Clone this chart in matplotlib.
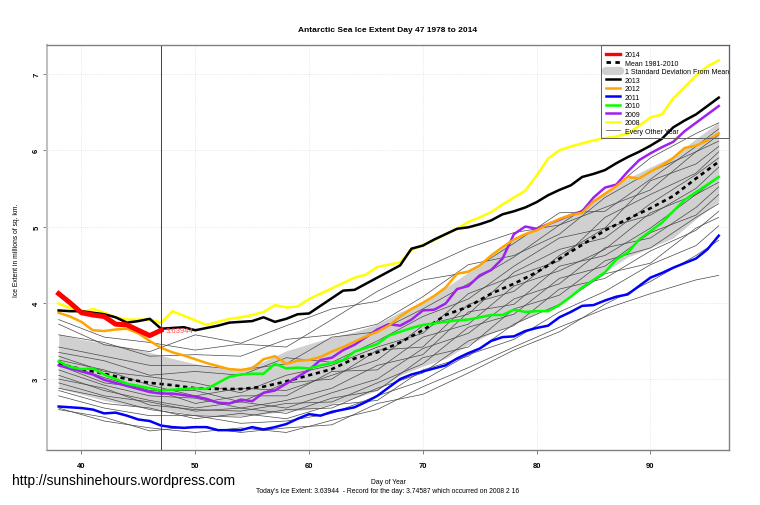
import matplotlib
matplotlib.use("Agg")
import matplotlib.pyplot as plt
from matplotlib.lines import Line2D
from matplotlib.patches import Rectangle

plt.rcParams['font.family'] = ['Liberation Sans', 'DejaVu Sans']

# daily values for the highlighted years
DAYS = list(range(38, 97))
DAYS_2014 = list(range(38, 48))
ICE_2014 = [4.12, 4.0, 3.87, 3.84, 3.82, 3.72, 3.71, 3.64, 3.57, 3.64]
ICE_2013 = [3.9, 3.89, 3.89, 3.87, 3.85, 3.81, 3.74, 3.76, 3.79, 3.66, 3.67, 3.68, 3.64, 3.67, 3.7,
            3.74, 3.75, 3.76, 3.81, 3.75, 3.79, 3.85, 3.86, 3.96, 4.06, 4.16, 4.17, 4.25, 4.33, 4.41,
            4.49, 4.71, 4.75, 4.83, 4.9, 4.97, 4.99, 5.03, 5.08, 5.16, 5.2, 5.25, 5.32, 5.41, 5.48,
            5.54, 5.65, 5.69, 5.74, 5.83, 5.91, 5.98, 6.06, 6.15, 6.3, 6.39, 6.47, 6.58, 6.69]
ICE_2012 = [3.87, 3.82, 3.75, 3.64, 3.63, 3.65, 3.66, 3.6, 3.5, 3.41, 3.35, 3.31, 3.26, 3.21, 3.17,
            3.13, 3.12, 3.14, 3.26, 3.3, 3.2, 3.24, 3.25, 3.29, 3.36, 3.42, 3.49, 3.56, 3.62, 3.7,
            3.82, 3.92, 4.0, 4.09, 4.2, 4.38, 4.41, 4.49, 4.62, 4.73, 4.83, 4.9, 4.95, 5.03, 5.1,
            5.15, 5.18, 5.33, 5.43, 5.53, 5.65, 5.63, 5.72, 5.8, 5.9, 6.03, 6.06, 6.13, 6.22]
ICE_2011 = [2.64, 2.63, 2.62, 2.6, 2.55, 2.56, 2.52, 2.47, 2.45, 2.39, 2.37, 2.36, 2.37, 2.37, 2.33,
            2.33, 2.33, 2.37, 2.34, 2.37, 2.41, 2.48, 2.54, 2.52, 2.57, 2.6, 2.63, 2.7, 2.78, 2.89,
            3.0, 3.06, 3.1, 3.14, 3.18, 3.27, 3.34, 3.4, 3.5, 3.55, 3.56, 3.63, 3.67, 3.7, 3.81,
            3.88, 3.96, 3.97, 4.03, 4.08, 4.11, 4.22, 4.33, 4.39, 4.46, 4.52, 4.58, 4.7, 4.88]
ICE_2010 = [3.23, 3.16, 3.13, 3.14, 3.06, 3.0, 2.94, 2.91, 2.88, 2.85, 2.86, 2.87, 2.88, 2.87, 2.95,
            3.03, 3.06, 3.07, 3.07, 3.2, 3.14, 3.15, 3.14, 3.18, 3.21, 3.25, 3.36, 3.41, 3.46, 3.57,
            3.62, 3.67, 3.71, 3.73, 3.75, 3.77, 3.78, 3.81, 3.84, 3.84, 3.91, 3.88, 3.89, 3.89, 3.97,
            4.08, 4.2, 4.3, 4.4, 4.57, 4.66, 4.83, 4.94, 5.05, 5.2, 5.35, 5.45, 5.55, 5.65]
ICE_2009 = [3.18, 3.14, 3.1, 3.06, 2.99, 2.95, 2.91, 2.87, 2.83, 2.81, 2.81, 2.79, 2.77, 2.74, 2.69,
            2.68, 2.73, 2.71, 2.82, 2.85, 2.94, 3.03, 3.12, 3.25, 3.28, 3.38, 3.45, 3.55, 3.65, 3.72,
            3.7, 3.78, 3.9, 3.91, 3.99, 4.18, 4.22, 4.36, 4.43, 4.58, 4.9, 5.0, 4.97, 5.03, 5.09,
            5.15, 5.2, 5.38, 5.51, 5.55, 5.72, 5.87, 5.96, 6.04, 6.11, 6.25, 6.36, 6.47, 6.58]
ICE_2008 = [3.99, 3.93, 3.87, 3.92, 3.87, 3.81, 3.78, 3.78, 3.78, 3.74, 3.89, 3.83, 3.77, 3.71, 3.75,
            3.79, 3.81, 3.84, 3.88, 3.97, 3.94, 3.95, 4.05, 4.12, 4.19, 4.26, 4.33, 4.37, 4.47, 4.5,
            4.53, 4.69, 4.76, 4.82, 4.9, 4.97, 5.06, 5.12, 5.19, 5.29, 5.38, 5.47, 5.67, 5.89, 6.0,
            6.05, 6.09, 6.13, 6.16, 6.18, 6.22, 6.32, 6.43, 6.47, 6.68, 6.83, 6.98, 7.1, 7.18]

# mean and band, every second day
MEAN_DAYS = list(range(38, 97, 2))
MEAN = [3.2, 3.13, 3.07, 3.0, 2.95, 2.92, 2.88, 2.87, 2.87, 2.9, 2.97, 3.05, 3.13, 3.27, 3.35, 3.48,
        3.64, 3.84, 3.95, 4.12, 4.25, 4.4, 4.58, 4.76, 4.95, 5.1, 5.24, 5.4, 5.63, 5.85]
SD_UPPER = [3.59, 3.52, 3.47, 3.42, 3.35, 3.27, 3.2, 3.15, 3.13, 3.23, 3.37, 3.46, 3.55, 3.62, 3.72, 3.88,
            4.0, 4.2, 4.4, 4.6, 4.85, 5.0, 5.1, 5.2, 5.45, 5.63, 5.78, 5.92, 6.15, 6.37]
SD_LOWER = [2.88, 2.8, 2.72, 2.66, 2.62, 2.58, 2.53, 2.52, 2.52, 2.54, 2.58, 2.6, 2.67, 2.75, 2.85, 3.05,
            3.17, 3.27, 3.45, 3.6, 3.72, 3.86, 3.98, 4.2, 4.4, 4.6, 4.72, 4.85, 5.1, 5.33]

# other years, read roughly every four days
OTHER_DAYS = [38, 42, 46, 50, 54, 58, 62, 66, 70, 74, 78, 82, 86, 90, 94, 96]
OTHER_YEARS = [
    [3.78, 3.55, 3.48, 3.38, 3.46, 3.42, 3.78, 4.15, 4.45, 4.72, 4.92, 5.02, 5.42, 5.9, 6.22, 6.36],
    [3.72, 3.45, 3.36, 3.58, 3.47, 3.7, 3.92, 4.02, 4.3, 4.4, 4.78, 5.18, 5.2, 5.62, 6.05, 6.28],
    [3.58, 3.48, 3.3, 3.32, 3.3, 3.52, 3.58, 3.72, 4.08, 4.5, 4.62, 4.9, 5.38, 5.72, 5.98, 6.2],
    [3.42, 3.3, 3.18, 3.18, 3.12, 3.2, 3.55, 3.62, 3.92, 4.25, 4.6, 5.02, 5.25, 5.48, 5.98, 6.12],
    [3.35, 3.24, 3.05, 3.1, 3.05, 3.28, 3.22, 3.5, 3.82, 4.05, 4.48, 4.85, 4.98, 5.6, 5.82, 6.05],
    [3.3, 3.1, 3.03, 2.95, 2.82, 3.05, 3.18, 3.42, 3.6, 4.12, 4.35, 4.55, 5.12, 5.42, 5.7, 5.98],
    [3.25, 3.12, 2.92, 2.78, 2.88, 2.85, 3.05, 3.25, 3.7, 3.85, 4.4, 4.7, 4.85, 5.3, 5.68, 5.9],
    [3.22, 3.02, 2.85, 2.85, 2.7, 2.95, 3.0, 3.38, 3.42, 3.98, 4.15, 4.62, 4.98, 5.15, 5.5, 5.78],
    [3.18, 2.95, 2.88, 2.68, 2.78, 2.78, 3.1, 3.12, 3.55, 3.72, 4.22, 4.42, 4.7, 5.18, 5.42, 5.65],
    [3.12, 2.92, 2.78, 2.75, 2.62, 2.72, 2.88, 3.18, 3.32, 3.88, 3.98, 4.48, 4.62, 4.98, 5.42, 5.58],
    [3.05, 2.85, 2.72, 2.62, 2.7, 2.62, 2.82, 3.0, 3.4, 3.6, 4.05, 4.25, 4.72, 4.85, 5.25, 5.52],
    [3.0, 2.88, 2.66, 2.6, 2.58, 2.68, 2.7, 2.95, 3.2, 3.68, 3.85, 4.32, 4.48, 4.92, 5.15, 5.42],
    [2.95, 2.78, 2.7, 2.58, 2.62, 2.55, 2.75, 2.85, 3.28, 3.42, 3.92, 4.1, 4.55, 4.72, 5.12, 5.3],
    [2.88, 2.76, 2.6, 2.52, 2.5, 2.6, 2.62, 2.88, 3.08, 3.5, 3.7, 4.18, 4.32, 4.68, 4.95, 5.2],
    [2.85, 2.68, 2.62, 2.48, 2.55, 2.48, 2.66, 2.72, 3.12, 3.3, 3.72, 3.98, 4.38, 4.52, 4.98, 5.12],
    [2.78, 2.62, 2.52, 2.52, 2.42, 2.45, 2.55, 2.78, 2.98, 3.32, 3.52, 3.88, 4.15, 4.5, 4.75, 5.01],
    [2.62, 2.45, 2.36, 2.3, 2.36, 2.3, 2.46, 2.6, 2.9, 3.15, 3.42, 3.68, 3.92, 4.12, 4.3, 4.36],
    [2.6, 2.5, 2.32, 2.38, 2.3, 2.36, 2.4, 2.68, 2.8, 3.08, 3.38, 3.62, 3.98, 4.28, 4.62, 4.82],
]
X_TICKS = [40, 50, 60, 70, 80, 90]
Y_TICKS = [3, 4, 5, 6, 7]

fig = plt.figure(figsize=(7.6, 5.06), dpi=100)
ax = fig.add_axes([46.5 / 760, 1 - 451 / 506, (729 - 46.5) / 760, (451 - 46) / 506])

ax.fill_between(MEAN_DAYS, SD_LOWER, SD_UPPER, color='#d0d0d0', lw=0)
ax.grid(True, color='#dddddd', ls=':', lw=0.6)
ax.set_axisbelow(True)

for vals in OTHER_YEARS:
    ax.plot(OTHER_DAYS, vals, color='#484848', lw=0.5)

ax.plot(MEAN_DAYS, MEAN, color='black', lw=1.9, ls=(0, (1.6, 1.4)))
ax.plot(DAYS, ICE_2008, color='#ffff00', lw=1.8)
ax.plot(DAYS, ICE_2009, color='#a020f0', lw=1.8)
ax.plot(DAYS, ICE_2010, color='#00ff00', lw=1.8)
ax.plot(DAYS, ICE_2011, color='#0000ff', lw=1.8)
ax.plot(DAYS, ICE_2012, color='#ffa500', lw=1.8)
ax.plot(DAYS, ICE_2013, color='black', lw=1.8)
ax.plot(DAYS_2014, ICE_2014, color='#ff0000', lw=3.6)

ax.axvline(47, color='#404040', lw=0.7)
ax.text(47.4, ICE_2014[-1], '3.63944', color='#ff5050', fontsize=5.5, va='center')

ax.set_xlim(36.93, 96.9)
ax.set_ylim(2.07, 7.38)
ax.set_xticks(X_TICKS)
ax.set_yticks(Y_TICKS)
ax.tick_params(colors='#808080', labelcolor='black', labelsize=5.5, length=3, width=0.7)
ax.tick_params(axis='x', pad=5.3)
ax.tick_params(axis='y', pad=1.5)
for lab in ax.get_yticklabels():
    lab.set_rotation(90)
    lab.set_va('center')
for lab in ax.get_xticklabels() + ax.get_yticklabels():
    lab.set_fontweight('bold')
for s in ax.spines.values():
    s.set_color('#808080')
    s.set_linewidth(1.0)
ax.spines['left'].set_color('#c0c0c0')
ax.spines['left'].set_linewidth(1.5)

handles = [
    Line2D([], [], color='#ff0000', lw=2.4),
    Line2D([], [], color='black', lw=2.0, ls=(0, (1.6, 1.6))),
    Line2D([], [], color='#d0d0d0', lw=6, solid_capstyle='round'),
    Line2D([], [], color='black', lw=1.8),
    Line2D([], [], color='#ffa500', lw=1.8),
    Line2D([], [], color='#0000ff', lw=1.8),
    Line2D([], [], color='#00ff00', lw=1.8),
    Line2D([], [], color='#a020f0', lw=1.8),
    Line2D([], [], color='#ffff00', lw=1.8),
    Line2D([], [], color='#484848', lw=0.5),
]
labels = ['2014', 'Mean 1981-2010', '1 Standard Deviation From Mean', '2013', '2012', '2011',
          '2010', '2009', '2008', 'Every Other Year']
# legend frame is offset from its text in the original, so it is drawn separately
ax.legend(handles, labels, loc='upper left', bbox_to_anchor=(606 / 760, 1 - 52 / 506),
          bbox_transform=fig.transFigure, borderaxespad=0, borderpad=0, fontsize=5.0, frameon=False,
          handlelength=2.0, handletextpad=0.72, labelspacing=0.22)
fig.add_artist(Rectangle((601 / 760, 1 - 139 / 506), 128 / 760, 93 / 506, transform=fig.transFigure,
                         fill=False, ec='#606060', lw=0.7))

fig.text(388 / 760, 1 - 31 / 506, 'Antarctic Sea Ice Extent Day 47 1978 to 2014', fontsize=6.0,
         fontweight='bold', ha='center', va='center')
fig.text(17 / 760, 1 - 250 / 506, 'Ice Extent in millions of sq. km.', fontsize=4.9, rotation=90,
         ha='center', va='center')
fig.text(388 / 760, 1 - 483 / 506, 'Day of Year', fontsize=4.9, ha='center', va='center')
fig.text(388 / 760, 1 - 492 / 506,
         "Today's Ice Extent: 3.63944  - Record for the day: 3.74587 which occurred on 2008 2 16",
         fontsize=4.9, ha='center', va='center')
fig.text(12 / 760, 1 - 481 / 506, 'http://sunshinehours.wordpress.com', fontsize=10.0,
         ha='left', va='center')

fig.savefig('out.png', dpi=100)
